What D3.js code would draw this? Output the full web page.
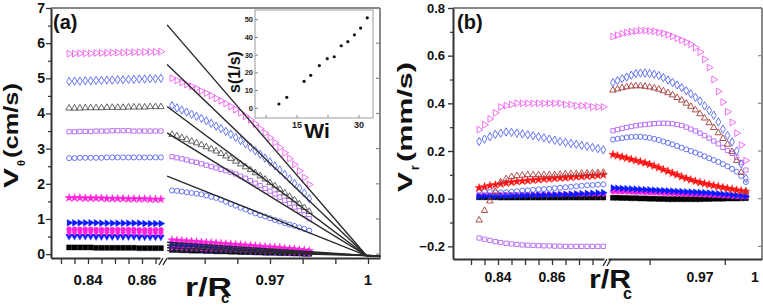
<!DOCTYPE html>
<html>
<head>
<meta charset="utf-8">
<script src="https://cdn.jsdelivr.net/npm/d3@7"></script>
<style>
  body { margin: 0; background: #fff; }
  svg { display: block; font-family: Arial, "Liberation Sans", sans-serif; font-weight: bold; }
</style>
</head>
<body>
<svg id="chart" width="763" height="307"></svg>
<script>
// ---------- panel (a): V_theta ----------
const aLeftR = [0.833,0.835,0.837,0.839,0.841,0.843,0.845,0.847,0.849,0.851,0.853,0.855,0.857,0.859,0.861,0.863,0.865,0.867];
const aLeftPinkTri  = [5.70,5.70,5.71,5.71,5.71,5.72,5.72,5.72,5.73,5.73,5.73,5.74,5.74,5.74,5.75,5.75,5.75,5.76];
const aLeftBlueDia  = [4.91,4.92,4.92,4.93,4.93,4.94,4.94,4.95,4.95,4.96,4.96,4.97,4.97,4.98,4.98,4.99,4.99,5.00];
const aLeftGrayTri  = [4.15,4.15,4.15,4.16,4.16,4.16,4.16,4.17,4.17,4.17,4.17,4.18,4.18,4.18,4.18,4.19,4.19,4.19];
const aLeftPurpSq   = [3.48,3.48,3.49,3.49,3.49,3.50,3.50,3.50,3.51,3.51,3.51,3.51,3.50,3.50,3.50,3.50,3.50,3.50];
const aLeftBlueCirc = [2.73,2.73,2.74,2.74,2.74,2.74,2.74,2.75,2.75,2.75,2.75,2.75,2.75,2.75,2.75,2.75,2.75,2.75];
const aLeftMagStar  = [1.60,1.60,1.60,1.59,1.59,1.59,1.59,1.58,1.58,1.58,1.58,1.57,1.57,1.57,1.57,1.56,1.56,1.56];
const aLeftBlueTri  = [0.89,0.89,0.89,0.89,0.89,0.89,0.88,0.88,0.88,0.88,0.88,0.88,0.88,0.88,0.87,0.87,0.87,0.87];
const aLeftMagCirc  = [0.71,0.71,0.71,0.71,0.71,0.70,0.70,0.70,0.70,0.70,0.70,0.70,0.70,0.69,0.69,0.69,0.69,0.69];
const aLeftMagDia   = [0.63,0.63,0.63,0.63,0.63,0.63,0.62,0.62,0.62,0.62,0.62,0.62,0.62,0.62,0.61,0.61,0.61,0.61];
const aLeftBlueDown = [0.51,0.51,0.51,0.51,0.51,0.50,0.50,0.50,0.50,0.50,0.50,0.50,0.50,0.49,0.49,0.49,0.49,0.49];
const aLeftBlackSq  = [0.19,0.19,0.19,0.19,0.19,0.18,0.18,0.18,0.18,0.18,0.18,0.18,0.18,0.17,0.17,0.17,0.17,0.17];

const aRightR = [0.9400,0.9415,0.9430,0.9445,0.9460,0.9475,0.9490,0.9505,0.9520,0.9535,0.9550,0.9565,0.9580,0.9595,0.9610,
                 0.9625,0.9640,0.9655,0.9670,0.9685,0.9700,0.9715,0.9730,0.9745,0.9760,0.9775,0.9790,0.9805,0.9820];
const aRightPinkTri  = [5.00,4.94,4.88,4.82,4.77,4.71,4.64,4.58,4.51,4.43,4.36,4.28,4.20,4.11,4.02,3.92,3.82,3.70,3.57,3.44,3.31,3.17,3.03,2.88,2.72,2.55,2.37,2.18,1.98];
const aRightBlueDia  = [4.22,4.16,4.10,4.04,3.98,3.92,3.86,3.79,3.72,3.64,3.57,3.49,3.41,3.32,3.23,3.14,3.04,2.94,2.84,2.73,2.62,2.51,2.39,2.27,2.14,2.01,1.88,1.74,1.58];
const aRightGrayTri  = [3.40,3.36,3.31,3.26,3.21,3.16,3.11,3.05,2.99,2.93,2.86,2.79,2.72,2.64,2.56,2.48,2.40,2.31,2.22,2.13,2.03,1.94,1.84,1.74,1.64,1.54,1.43,1.32,1.21];
const aRightPurpSq   = [2.77,2.74,2.71,2.68,2.64,2.61,2.57,2.53,2.49,2.45,2.41,2.37,2.33,2.28,2.22,2.16,2.09,2.02,1.95,1.87,1.79,1.71,1.62,1.53,1.44,1.34,1.24,1.13,1.01];
const aRightBlueCirc = [1.81,1.80,1.78,1.76,1.74,1.72,1.70,1.67,1.63,1.60,1.55,1.49,1.43,1.38,1.32,1.27,1.21,1.16,1.11,1.07,1.02,0.97,0.93,0.88,0.84,0.80,0.76,0.72,0.67];
const aRightMagStar  = [0.40,0.39,0.38,0.37,0.36,0.35,0.34,0.33,0.32,0.31,0.30,0.29,0.28,0.27,0.26,0.25,0.24,0.23,0.22,0.21,0.20,0.19,0.18,0.16,0.15,0.14,0.12,0.11,0.09];
const aRightBlueTri  = [0.28,0.27,0.27,0.26,0.25,0.24,0.24,0.23,0.22,0.21,0.21,0.20,0.19,0.18,0.18,0.17,0.16,0.15,0.15,0.14,0.13,0.12,0.11,0.11,0.10,0.09,0.08,0.07,0.06];
const aRightMagCirc  = [0.23,0.23,0.22,0.21,0.21,0.20,0.20,0.19,0.18,0.18,0.17,0.17,0.16,0.15,0.15,0.14,0.13,0.13,0.12,0.11,0.11,0.10,0.09,0.09,0.08,0.07,0.07,0.06,0.05];
const aRightMagDia   = [0.20,0.20,0.19,0.19,0.18,0.18,0.17,0.17,0.16,0.16,0.15,0.15,0.14,0.14,0.13,0.13,0.12,0.11,0.11,0.10,0.10,0.09,0.09,0.08,0.07,0.07,0.06,0.05,0.04];
const aRightBlueDown = [0.17,0.17,0.16,0.16,0.15,0.15,0.14,0.14,0.13,0.13,0.12,0.12,0.11,0.11,0.10,0.10,0.09,0.09,0.08,0.08,0.07,0.07,0.06,0.06,0.05,0.05,0.04,0.04,0.03];
const aRightBlackSq  = [0.12,0.12,0.11,0.11,0.10,0.10,0.10,0.09,0.09,0.08,0.08,0.08,0.07,0.07,0.06,0.06,0.06,0.05,0.05,0.04,0.04,0.04,0.03,0.03,0.03,0.02,0.02,0.01,0.01];

// fitted straight lines (start, near r=1, end)
const aLineR = [0.9385, 0.9995, 1.0037];
const aLineV = [[6.52,-0.04,-0.05],[5.39,-0.04,-0.05],[4.20,-0.04,-0.05],[3.45,-0.04,-0.05],[2.22,-0.04,-0.05],
                [0.34,-0.04,-0.05],[0.26,-0.04,-0.05],[0.18,-0.04,-0.05],[0.10,-0.04,-0.05]];

// inset: shear rate vs Wi
const insetWi = [10.6,12.5,16.7,18.3,20.4,22.3,24.0,25.7,27.3,28.9,30.4,32.0];
const insetS  = [2.4,6.2,15.2,18.6,24.1,28.0,29.1,35.3,37.6,41.5,45.3,51.1];

// ---------- panel (b): V_r ----------
const bLeftR = [0.833,0.835,0.837,0.839,0.841,0.843,0.845,0.847,0.849,0.851,0.853,0.855,0.857,0.859,0.861,0.863,0.865,0.867,0.869,0.871,0.873,0.875,0.877,0.879];
const bLeftPinkTri  = [0.29,0.31,0.335,0.36,0.385,0.39,0.395,0.40,0.40,0.40,0.40,0.40,0.40,0.40,0.40,0.40,0.395,0.395,0.39,0.39,0.39,0.385,0.385,0.385];
const bLeftBlueDia  = [0.24,0.25,0.26,0.27,0.275,0.28,0.278,0.275,0.272,0.268,0.264,0.26,0.255,0.25,0.245,0.24,0.236,0.232,0.228,0.224,0.22,0.215,0.21,0.205];
const bLeftBrownTri = [-0.09,-0.05,-0.01,0.03,0.07,0.083,0.092,0.096,0.098,0.10,0.10,0.10,0.10,0.10,0.10,0.102,0.104,0.105,0.105,0.106,0.107,0.108,0.109,0.11];
const bLeftRedStar  = [0.045,0.05,0.055,0.058,0.062,0.066,0.069,0.072,0.074,0.076,0.078,0.08,0.082,0.083,0.085,0.087,0.088,0.09,0.092,0.093,0.095,0.096,0.098,0.10];
const bLeftBlueCirc = [0.032,0.03,0.028,0.026,0.026,0.027,0.029,0.031,0.033,0.035,0.037,0.039,0.04,0.042,0.044,0.046,0.048,0.05,0.052,0.054,0.056,0.057,0.059,0.06];
const bLeftBlueTri  = [0.01,0.01,0.011,0.011,0.012,0.012,0.013,0.013,0.014,0.014,0.015,0.015,0.016,0.016,0.017,0.018,0.018,0.019,0.02,0.021,0.022,0.023,0.024,0.025];
const bLeftMagCirc  = [0.015,0.015,0.015,0.015,0.016,0.016,0.016,0.016,0.017,0.017,0.017,0.017,0.018,0.018,0.018,0.018,0.019,0.019,0.019,0.019,0.02,0.02,0.02,0.02];
const bLeftBlackSq  = [0.006,0.006,0.006,0.006,0.005,0.005,0.005,0.005,0.005,0.005,0.005,0.005,0.005,0.005,0.005,0.005,0.005,0.005,0.005,0.005,0.005,0.005,0.005,0.005];
const bLeftPurpSq   = [-0.165,-0.17,-0.175,-0.18,-0.184,-0.187,-0.19,-0.192,-0.194,-0.195,-0.196,-0.197,-0.198,-0.198,-0.199,-0.199,-0.2,-0.2,-0.2,-0.2,-0.2,-0.2,-0.2,-0.2];

const bRightR = [0.9225,0.9250,0.9275,0.9300,0.9325,0.9350,0.9375,0.9400,0.9425,0.9450,0.9475,0.9500,0.9525,0.9550,0.9575,
                 0.9600,0.9625,0.9650,0.9675,0.9700,0.9725,0.9750,0.9775,0.9800,0.9825,0.9850,0.9875,0.9900,0.9925,0.9950];
const bRightPinkTri  = [0.680,0.686,0.692,0.697,0.700,0.703,0.705,0.705,0.704,0.702,0.698,0.694,0.688,0.681,0.673,0.665,0.657,0.648,0.634,0.615,0.585,0.550,0.500,0.450,0.405,0.365,0.320,0.275,0.225,0.160];
const bRightBlueDia  = [0.487,0.495,0.503,0.510,0.518,0.525,0.527,0.527,0.525,0.522,0.517,0.508,0.498,0.488,0.477,0.466,0.453,0.440,0.425,0.410,0.390,0.370,0.350,0.322,0.292,0.265,0.238,0.200,0.145,0.085];
const bRightBrownTri = [0.455,0.460,0.465,0.469,0.472,0.473,0.473,0.471,0.468,0.464,0.459,0.452,0.444,0.435,0.424,0.413,0.400,0.387,0.372,0.356,0.338,0.318,0.298,0.276,0.252,0.228,0.197,0.160,0.110,0.030];
const bRightPurpSq   = [0.285,0.290,0.295,0.299,0.303,0.306,0.309,0.311,0.313,0.315,0.316,0.317,0.316,0.314,0.311,0.307,0.300,0.292,0.284,0.275,0.265,0.254,0.242,0.230,0.215,0.202,0.190,0.173,0.152,0.120];
const bRightBlueCirc = [0.248,0.251,0.254,0.257,0.259,0.260,0.260,0.258,0.255,0.251,0.246,0.240,0.234,0.228,0.221,0.214,0.207,0.200,0.193,0.186,0.178,0.170,0.162,0.154,0.145,0.136,0.125,0.113,0.095,0.070];
const bRightRedStar  = [0.185,0.180,0.175,0.170,0.165,0.160,0.155,0.150,0.144,0.137,0.130,0.122,0.115,0.107,0.100,0.092,0.085,0.079,0.073,0.068,0.063,0.059,0.055,0.051,0.047,0.043,0.040,0.036,0.033,0.030];
const bRightBlueTri  = [0.045,0.044,0.043,0.042,0.041,0.040,0.039,0.038,0.037,0.036,0.035,0.034,0.033,0.032,0.031,0.030,0.029,0.028,0.027,0.026,0.025,0.024,0.022,0.021,0.019,0.018,0.016,0.014,0.012,0.010];
const bRightMagCirc  = [0.030,0.030,0.029,0.029,0.028,0.027,0.027,0.026,0.025,0.025,0.024,0.023,0.022,0.022,0.021,0.020,0.019,0.018,0.018,0.017,0.016,0.015,0.014,0.013,0.012,0.011,0.010,0.009,0.008,0.008];
const bRightBlackSq  = [0.004,0.004,0.003,0.003,0.002,0.002,0.001,0.001,0.000,0.000,-0.001,-0.001,-0.002,-0.002,-0.002,-0.002,-0.002,-0.002,-0.002,-0.002,-0.001,-0.001,0.000,0.000,0.000,0.001,0.001,0.001,0.002,0.002];

// ticks and tick labels
const aYTicks = [0,1,2,3,4,5,6,7];
const aYMinor = [0.5,1.5,2.5,3.5,4.5,5.5,6.5];
const aXTicksL = [0.83,0.835,0.84,0.845,0.85,0.855,0.86,0.865];
const aXTicksR = [0.95,0.96,0.97,0.98,0.99,1.0];
const aXLabelsL = [0.84, 0.86];
const aXLabelsR = [0.97, 1];
const insetYTicks = [0,10,20,30,40,50];
const insetXTicks = [15,30];
const insetXMinor = [7.5,15,22.5,30];

const bYTicks = [-0.2,0,0.2,0.4,0.6,0.8];
const bYMinor = [-0.1,0.1,0.3,0.5,0.7];
const bXTicksL = [0.83,0.835,0.84,0.845,0.85,0.855,0.86,0.865,0.87,0.875];
const bXTicksR = [0.9425,0.9835];
const bXLabelsL = [0.84, 0.86];
const bXLabelsR = [0.97, 1];

// colours
const pink = "#f060f0", blueO = "#5566ee", gray = "#555555", purple = "#b366f2",
      magenta = "#ff22dd", blueF = "#0a1aff", black = "#000000", brown = "#a53c3c", red = "#ff1010";

const svg = d3.select("#chart");

const shapes = {
  circle:  [d3.symbolCircle, 0, 20],
  square:  [d3.symbolSquare, 0, 18],
  block:   [d3.symbolSquare, 0, 26],
  diamond: [d3.symbolDiamond, 0, 20],
  triUp:   [d3.symbolTriangle, 0, 18],
  triRight:[d3.symbolTriangle, 90, 20],
  triDown: [d3.symbolTriangle, 180, 20],
  star:    [d3.symbolStar, 0, 22]
};

function drawSeries(g, x, y, rs, vs, shape, color, filled) {
  const [type, rot, size] = shapes[shape];
  g.append("g").selectAll("path")
    .data(vs)
    .join("path")
    .attr("d", d3.symbol(type, size))
    .attr("transform", (v, i) => `translate(${x(rs[i])},${y(v)}) rotate(${rot})`)
    .attr("fill", filled ? color : "none")
    .attr("stroke", color)
    .attr("stroke-width", filled ? 0.4 : 0.9);
}

function styleAxis(g, size) {
  g.selectAll("text").attr("font-size", size).attr("font-weight", "bold")
    .attr("font-family", "Arial, 'Liberation Sans', sans-serif").attr("fill", "#111");
  g.selectAll("line").attr("stroke", "#333").attr("stroke-width", 1.3);
  g.select(".domain").attr("stroke", "#333").attr("stroke-width", 2);
}

function drawFrame(y, xl, xr, o) {
  const x0 = xl.range()[0], xBreak = xl.range()[1], x1 = xr.range()[1];
  const yTop = y.range()[1], yBot = y.range()[0];

  // top and right border
  svg.append("line").attr("x1", x0).attr("x2", x1).attr("y1", yTop).attr("y2", yTop)
    .attr("stroke", "#888").attr("stroke-width", 2);
  svg.append("line").attr("x1", x1).attr("x2", x1).attr("y1", yTop).attr("y2", yBot)
    .attr("stroke", "#888").attr("stroke-width", 2);

  // y axis
  const ya = svg.append("g").attr("transform", `translate(${x0},0)`)
    .call(d3.axisLeft(y).tickValues(o.yTicks).tickSize(5).tickPadding(o.yPad).tickSizeOuter(0).tickFormat(o.yFmt));
  styleAxis(ya, o.yFont);
  const ym = svg.append("g").attr("transform", `translate(${x0},0)`)
    .call(d3.axisLeft(y).tickValues(o.yMinor).tickSize(3).tickFormat(""));
  ym.select(".domain").remove();
  ym.selectAll("line").attr("stroke", "#333").attr("stroke-width", 1.2);

  // right-side inward ticks
  svg.append("g").selectAll("line").data(o.yTicks).join("line")
    .attr("x1", x1 - 4).attr("x2", x1).attr("y1", d => y(d)).attr("y2", d => y(d))
    .attr("stroke", "#888").attr("stroke-width", 1.2);

  // broken x axis
  [[xl, o.xTicksL], [xr, o.xTicksR]].forEach(([sc, tv]) => {
    const xa = svg.append("g").attr("transform", `translate(0,${yBot})`)
      .call(d3.axisBottom(sc).tickValues(tv).tickSize(6).tickSizeOuter(0).tickFormat(""));
    styleAxis(xa, 10);
  });

  // break marks "//"
  [0, 4].forEach(dx => {
    svg.append("line")
      .attr("x1", xBreak - 1 + dx).attr("y1", yBot + 7)
      .attr("x2", xBreak + 3 + dx).attr("y2", yBot)
      .attr("stroke", "#222").attr("stroke-width", 1.3);
  });

  // tick labels
  const lab = (sc, vals) => svg.append("g").selectAll("text").data(vals).join("text")
    .attr("x", d => sc(d)).attr("y", o.xLabelY)
    .attr("text-anchor", "middle").attr("font-size", o.xFont).attr("fill", "#111")
    .text(d => d === 1 ? "1" : d3.format(".2f")(d));
  lab(xl, o.xLabelsL);
  lab(xr, o.xLabelsR);
}

// ================= panel (a) =================
const aY  = d3.scaleLinear().domain([-0.11, 7]).range([258, 8]);
const aXL = d3.scaleLinear().domain([0.8263, 0.86667]).range([51, 160]);
const aXR = d3.scaleLinear().domain([0.93847, 1.00367]).range([167, 380]);

drawFrame(aY, aXL, aXR, {
  yTicks: aYTicks, yMinor: aYMinor, yFmt: d3.format("d"), yFont: 14, yPad: 1,
  xTicksL: aXTicksL, xTicksR: aXTicksR, xLabelsL: aXLabelsL, xLabelsR: aXLabelsR,
  xFont: 15, xLabelY: 285
});

const aG = svg.append("g");
[
  [aLeftBlackSq, "block", black, true],
  [aLeftBlueDown, "triDown", blueF, true],
  [aLeftMagDia, "diamond", magenta, true],
  [aLeftMagCirc, "circle", magenta, true],
  [aLeftBlueTri, "triRight", blueF, true],
  [aLeftMagStar, "star", magenta, true],
  [aLeftBlueCirc, "circle", blueO, false],
  [aLeftPurpSq, "square", purple, false],
  [aLeftGrayTri, "triUp", gray, false],
  [aLeftBlueDia, "diamond", blueO, false],
  [aLeftPinkTri, "triRight", pink, false]
].forEach(([vals, shape, col, filled]) => drawSeries(aG, aXL, aY, aLeftR, vals, shape, col, filled));

[
  [aRightBlackSq, "block", black, true],
  [aRightBlueDown, "triDown", blueF, true],
  [aRightMagDia, "diamond", magenta, true],
  [aRightMagCirc, "circle", magenta, true],
  [aRightBlueTri, "triRight", blueF, true],
  [aRightMagStar, "star", magenta, true],
  [aRightBlueCirc, "circle", blueO, false],
  [aRightPurpSq, "square", purple, false],
  [aRightGrayTri, "triUp", gray, false],
  [aRightBlueDia, "diamond", blueO, false],
  [aRightPinkTri, "triRight", pink, false]
].forEach(([vals, shape, col, filled]) => drawSeries(aG, aXR, aY, aRightR, vals, shape, col, filled));

const fitLine = d3.line().x((v, i) => aXR(aLineR[i])).y(v => aY(v));
aG.append("g").selectAll("path").data(aLineV).join("path")
  .attr("d", fitLine).attr("fill", "none").attr("stroke", "#2a2a2a").attr("stroke-width", 1.4);

// axis titles (a)
svg.append("text").attr("x", 53).attr("y", 29).attr("font-size", 20).attr("fill", "#111").text("(a)");
const aYT = svg.append("g").attr("transform", "translate(18,188) rotate(-90)");
aYT.append("text").attr("x", 0).attr("y", 0).attr("font-size", 21).attr("textLength", 20)
  .attr("lengthAdjust", "spacingAndGlyphs").attr("fill", "#111").text("V");
aYT.append("text").attr("x", 22).attr("y", 7).attr("font-size", 11).attr("fill", "#111").text("θ");
aYT.append("text").attr("x", 30).attr("y", 0).attr("font-size", 21).attr("textLength", 75)
  .attr("lengthAdjust", "spacingAndGlyphs").attr("fill", "#111").text("(cm/s)");
svg.append("text").attr("x", 185).attr("y", 296).attr("font-size", 25).attr("textLength", 47)
  .attr("lengthAdjust", "spacingAndGlyphs").attr("fill", "#111").text("r/R");
svg.append("text").attr("x", 221).attr("y", 303).attr("font-size", 15).attr("fill", "#111").text("c");

// inset
const inX = d3.scaleLinear().domain([4.8, 33.4]).range([255, 373]);
const inY = d3.scaleLinear().domain([-5.5, 55.5]).range([118, 10]);
const inset = svg.append("g");
inset.append("rect").attr("x", inX.range()[0]).attr("y", inY.range()[1])
  .attr("width", inX.range()[1] - inX.range()[0]).attr("height", inY.range()[0] - inY.range()[1])
  .attr("fill", "#fff").attr("stroke", "#9a9a9a").attr("stroke-width", 1);
inset.append("g").selectAll("line").data(insetYTicks).join("line")
  .attr("x1", inX.range()[0]).attr("x2", inX.range()[0] + 3).attr("y1", d => inY(d)).attr("y2", d => inY(d))
  .attr("stroke", "#888");
inset.append("g").selectAll("text").data(insetYTicks).join("text")
  .attr("x", inX.range()[0] - 2).attr("y", d => inY(d)).attr("dy", "0.35em")
  .attr("text-anchor", "end").attr("font-size", 7.5).attr("fill", "#222").text(d => d);
inset.append("g").selectAll("line").data(insetXMinor).join("line")
  .attr("x1", d => inX(d)).attr("x2", d => inX(d)).attr("y1", inY.range()[0]).attr("y2", inY.range()[0] - 3)
  .attr("stroke", "#888");
inset.append("g").selectAll("text").data(insetXTicks).join("text")
  .attr("x", d => inX(d)).attr("y", 128).attr("text-anchor", "middle")
  .attr("font-size", 9).attr("fill", "#222").text(d => d);
inset.append("g").selectAll("circle").data(insetWi).join("circle")
  .attr("cx", d => inX(d)).attr("cy", (d, i) => inY(insetS[i])).attr("r", 1.6).attr("fill", "#111");
inset.append("text").attr("transform", "translate(240,72) rotate(-90)").attr("text-anchor", "middle")
  .attr("font-size", 16).attr("fill", "#111").text("s(1/s)");
inset.append("text").attr("x", 317).attr("y", 138).attr("text-anchor", "middle")
  .attr("font-size", 21).attr("fill", "#111").text("Wi");

// ================= panel (b) =================
const bY  = d3.scaleLinear().domain([-0.253, 0.8]).range([259, 8]);
const bXL = d3.scaleLinear().domain([0.82333, 0.87926]).range([453, 604]);
const bXR = d3.scaleLinear().domain([0.91981, 1.00382]).range([608, 762]);

drawFrame(bY, bXL, bXR, {
  yTicks: bYTicks, yMinor: bYMinor, yFmt: d3.format(".1f"), yFont: 13, yPad: 3,
  xTicksL: bXTicksL, xTicksR: bXTicksR, xLabelsL: bXLabelsL, xLabelsR: bXLabelsR,
  xFont: 14, xLabelY: 282
});

const bG = svg.append("g");
[
  [bLeftBlackSq, "block", black, true],
  [bLeftMagCirc, "circle", magenta, true],
  [bLeftBlueTri, "triRight", blueF, true],
  [bLeftBlueCirc, "circle", blueO, false],
  [bLeftRedStar, "star", red, true],
  [bLeftBrownTri, "triUp", brown, false],
  [bLeftPurpSq, "square", purple, false],
  [bLeftBlueDia, "diamond", blueO, false],
  [bLeftPinkTri, "triRight", pink, false]
].forEach(([vals, shape, col, filled]) => drawSeries(bG, bXL, bY, bLeftR, vals, shape, col, filled));

[
  [bRightBlackSq, "block", black, true],
  [bRightMagCirc, "circle", magenta, true],
  [bRightBlueTri, "triRight", blueF, true],
  [bRightRedStar, "star", red, true],
  [bRightBlueCirc, "circle", blueO, false],
  [bRightPurpSq, "square", purple, false],
  [bRightBrownTri, "triUp", brown, false],
  [bRightBlueDia, "diamond", blueO, false],
  [bRightPinkTri, "triRight", pink, false]
].forEach(([vals, shape, col, filled]) => drawSeries(bG, bXR, bY, bRightR, vals, shape, col, filled));

// axis titles (b)
svg.append("text").attr("x", 457).attr("y", 29).attr("font-size", 20).attr("fill", "#111").text("(b)");
const bYT = svg.append("g").attr("transform", "translate(412,192) rotate(-90)");
bYT.append("text").attr("x", 0).attr("y", 0).attr("font-size", 21).attr("textLength", 20)
  .attr("lengthAdjust", "spacingAndGlyphs").attr("fill", "#111").text("V");
bYT.append("text").attr("x", 22).attr("y", 7).attr("font-size", 12).attr("fill", "#111").text("r");
bYT.append("text").attr("x", 30).attr("y", 0).attr("font-size", 21).attr("textLength", 100)
  .attr("lengthAdjust", "spacingAndGlyphs").attr("fill", "#111").text("(mm/s)");
svg.append("text").attr("x", 589).attr("y", 288).attr("font-size", 25).attr("textLength", 42)
  .attr("lengthAdjust", "spacingAndGlyphs").attr("fill", "#111").text("r/R");
svg.append("text").attr("x", 623).attr("y", 299).attr("font-size", 16).attr("fill", "#111").text("c");
</script>
</body>
</html>
